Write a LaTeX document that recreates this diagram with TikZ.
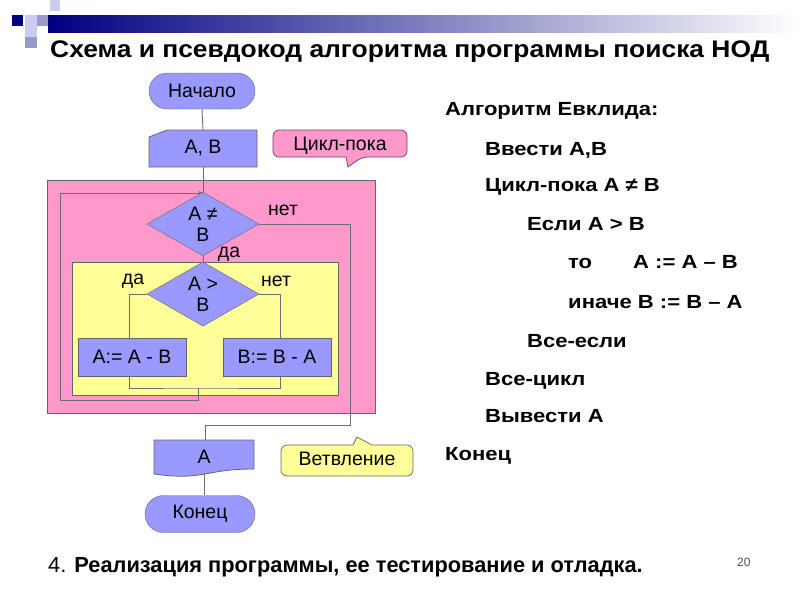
\documentclass[tikz,border=0pt]{standalone}
\usepackage{fontspec}
\setmainfont{Liberation Sans}
\usetikzlibrary{shapes.geometric,shapes.misc,arrows.meta}
\definecolor{lav}{RGB}{153,153,255}
\definecolor{pinkbg}{RGB}{255,153,204}
\definecolor{yelbg}{RGB}{255,255,153}
\definecolor{edge}{RGB}{102,102,102}
\definecolor{wire}{RGB}{110,110,110}
\definecolor{navy}{RGB}{0,0,128}
\definecolor{sqlight}{RGB}{204,204,238}
\definecolor{sqmid}{RGB}{153,153,204}
\definecolor{pinkedge}{RGB}{120,60,90}
\pgfdeclarelayer{bg}
\pgfdeclarelayer{lines}
\pgfsetlayers{bg,lines,main}
\tikzset{
  fc/.style={font=\fontsize{19.5}{22}\selectfont},
  term/.style={rounded rectangle, draw=edge, fill=lav, minimum width=106pt, minimum height=36pt, inner sep=0pt, fc},
  proc/.style={rectangle, draw=edge, fill=lav, minimum width=108pt, minimum height=38pt, inner sep=0pt, fc},
  ghost/.style={rectangle, draw=none, inner sep=0pt, fc},
  dia/.style={diamond, draw=edge, fill=lav, minimum width=112pt, minimum height=50pt, inner sep=0pt, align=center, fc},
  conn/.style={draw=wire, line width=0.9pt},
  lbl/.style={fc},
  code/.style={anchor=base west, inner sep=0pt, font=\bfseries\fontsize{19}{22}\selectfont},
  shapeline/.style={draw=edge, line width=0.8pt, fill=lav},
}
\newcommand{\cw}[1]{\scalebox{1.16}[1]{#1}}
\begin{document}
\begin{tikzpicture}[x=1pt,y=-1pt]
\begin{pgfonlayer}{bg}
\fill[white] (0,0) rectangle (800,600);
\end{pgfonlayer}
\useasboundingbox (0,0) rectangle (800,600);
% top decoration
\shade[left color=navy, right color=white] (48,15) rectangle (800,32);
\fill[navy] (12,15) rectangle (23,26);
\fill[sqlight] (50,0) rectangle (60,11);
\fill[sqlight] (25,15) rectangle (37,26);
\fill[sqmid] (37,15) rectangle (48,26);
\fill[sqlight] (25,26) rectangle (37,37);
\fill[sqmid] (25,37) rectangle (37,48);
% title
\node[anchor=base west, inner sep=0pt, font=\bfseries\fontsize{24}{28}\selectfont] (title) at (50,57) {\scalebox{1.1}[1]{Схема и псевдокод алгоритма программы поиска НОД}};
% backgrounds
\begin{pgfonlayer}{bg}
\filldraw[fill=pinkbg, draw=edge, line width=0.6pt] (47,180) rectangle (375,413);
\filldraw[fill=yelbg, draw=edge, line width=0.6pt] (72,262) rectangle (338,395);
\end{pgfonlayer}
% flowchart nodes
\node[term] (start) at (202,91) {Начало};
\filldraw[shapeline] (149,137) -- (167,130) -- (257,130) -- (257,167) -- (149,167) -- cycle;
\node[ghost, minimum width=108pt, minimum height=37pt] (inp) at (203,148.5) {\raisebox{-4pt}{А, В}};
\node[dia] (d1) at (203,224) {А ≠\\[-1pt]В};
\node[dia] (d2) at (203,294) {А >\\[-1pt]В};
\node[proc] (a) at (132,357) {А:= А - В};
\node[proc] (b) at (277,357) {В:= В - А};
\filldraw[shapeline] (154,440) -- (254,440) -- (254,469) .. controls (204,469) and (204,481) .. (154,474) -- cycle;
\node[ghost, minimum width=100pt, minimum height=34pt] (out) at (204,457) {А};
\node[term, minimum width=110pt, minimum height=37pt] (end) at (200,514) {Конец};
% callouts
\filldraw[fill=pinkbg, draw=pinkedge, line width=0.7pt] (300,130) [rounded corners=6pt] -- (407,130) -- (407,157) -- (362,157) [sharp corners] -- (348,167) -- (346,157) [rounded corners=6pt] -- (273,157) -- (273,130) -- cycle;
\node[lbl] (cyc) at (340,146) {Цикл-пока};
\filldraw[fill=yelbg, draw=edge, line width=0.7pt] (300,445) [sharp corners] -- (353,445) -- (357,437) -- (372,445) [rounded corners=6pt] -- (413,445) -- (413,476) -- (281,476) -- (281,445) -- cycle;
\node[lbl] (br) at (347,459) {Ветвление};
% connector coordinates
\coordinate (lp) at (203,193);
\coordinate (mg) at (198,388);
\begin{pgfonlayer}{lines}
\draw[conn] (start.south) -- (inp.north);
\draw[conn] (inp.south) -- (d1.north);
\draw[conn] (d1.south) -- (d2.north);
\draw[conn] (d1.east) -- (350,224) -- (350,425) -- (205,425) -- (205,440);
\draw[conn] (d2.west) -| ([xshift=-3pt]a.north);
\draw[conn] (d2.east) -| ([xshift=3pt]b.north);
\draw[conn] ([xshift=-3pt]a.south) |- (mg) -| ([xshift=3pt]b.south);
\draw[conn, -{Stealth[length=5pt,width=4pt]}] (mg) -- (198,400) -- (60,400) -- (60,193) -- (lp);
\draw[conn] (out.south) -- (out.south |- end.north);
\end{pgfonlayer}
% labels
\node[lbl] (l1) at (283,210) {нет};
\node[lbl] (l2) at (229,254) {да};
\node[lbl] (l3) at (133,281) {да};
\node[lbl] (l4) at (276,281) {нет};
% pseudocode
\node[code] (c1) at (445,115) {\cw{Алгоритм Евклида:}};
\node[code] (c2) at (485,155) {\cw{Ввести А,В}};
\node[code] (c3) at (485,191) {\cw{Цикл-пока А ≠ В}};
\node[code] (c4) at (527,230) {\cw{Если А > В}};
\node[code] (c5) at (568,268) {\cw{то}};
\node[code] (c5b) at (633,268) {\cw{А := А – В}};
\node[code] (c6) at (568,308) {\cw{иначе В := В – А}};
\node[code] (c7) at (527,347) {\cw{Все-если}};
\node[code] (c8) at (485,385) {\cw{Все-цикл}};
\node[code] (c9) at (485,422) {\cw{Вывести А}};
\node[code] (c10) at (445,460) {\cw{Конец}};
% footer
\node[anchor=base west, inner sep=0pt, font=\fontsize{21.8}{26}\selectfont] (foot) at (48,572) {4. \textbf{Реализация программы, ее тестирование и отладка.}};
\node[anchor=base west, inner sep=0pt, text=black!70, font=\fontsize{12}{14}\selectfont] (pg) at (737,566) {20};
\end{tikzpicture}
\end{document}
